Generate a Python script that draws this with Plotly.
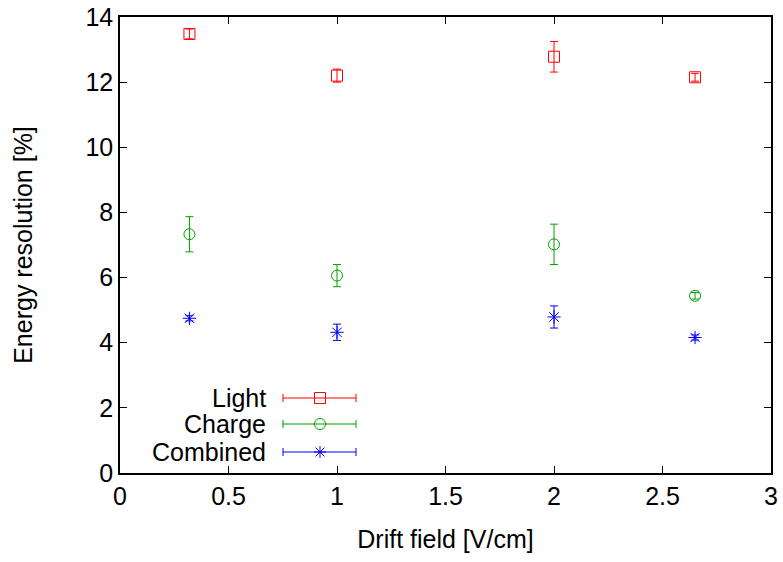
import plotly.graph_objects as go

# Data
drift_field = [0.32, 1.0, 2.0, 2.65]
light = [13.48, 12.2, 12.78, 12.15]
light_err = [0.15, 0.2, 0.47, 0.12]
charge = [7.33, 6.06, 7.02, 5.44]
charge_err = [0.54, 0.34, 0.62, 0.1]
combined = [4.75, 4.32, 4.79, 4.16]
combined_err = [0.08, 0.25, 0.34, 0.08]

series_names = ["Light", "Charge", "Combined"]
colors = ["#ff0000", "#00a000", "#0000ff"]
symbols = ["square-open", "circle-open", "asterisk-open"]
values = [light, charge, combined]
errors = [light_err, charge_err, combined_err]

x_ticks = [0, 0.5, 1, 1.5, 2, 2.5, 3]
y_ticks = [0, 2, 4, 6, 8, 10, 12, 14]

FONT = "Liberation Sans, Arial, sans-serif"
FS = 25

fig = go.Figure()
for name, col, sym, v, e in zip(series_names, colors, symbols, values, errors):
    fig.add_trace(go.Scatter(
        x=drift_field, y=v, mode="markers", name=name,
        marker=dict(symbol=sym, size=11, color=col, line=dict(width=1, color=col)),
        error_y=dict(type="data", array=e, visible=True, color=col, thickness=1, width=4),
        showlegend=False,
    ))

# Custom gnuplot-style legend (decoration, paper coordinates)
L, R, T, B = 120, 12, 17, 89
W, H = 783.0 - L - R, 562.0 - T - B
leg_rows_py = [398, 424, 452]
text_right_px = 268
line_x0_px, line_x1_px, marker_px = 283, 356, 320
shapes = []
annotations = []
for name, col, sym, py in zip(series_names, colors, symbols, leg_rows_py):
    yp = (562 - B - py) / H
    x0 = (line_x0_px - L) / W
    x1 = (line_x1_px - L) / W
    xm = (marker_px - L) / W
    annotations.append(dict(text=name, x=(text_right_px - L) / W, y=yp, xref="paper", yref="paper",
                            xanchor="right", yanchor="middle", showarrow=False,
                            font=dict(family=FONT, size=FS, color="black")))
    shapes.append(dict(type="line", xref="paper", yref="paper", x0=x0, x1=x1, y0=yp, y1=yp,
                       line=dict(color=col, width=1)))
    for xc in (x0, x1):
        shapes.append(dict(type="line", xref="paper", yref="paper", xsizemode="pixel", ysizemode="pixel",
                           xanchor=xc, yanchor=yp, x0=0, x1=0, y0=-4, y1=4, line=dict(color=col, width=1)))
    if sym == "square-open":
        shapes.append(dict(type="rect", xref="paper", yref="paper", xsizemode="pixel", ysizemode="pixel",
                           xanchor=xm, yanchor=yp, x0=-5.5, x1=5.5, y0=-5.5, y1=5.5,
                           line=dict(color=col, width=1)))
    elif sym == "circle-open":
        shapes.append(dict(type="circle", xref="paper", yref="paper", xsizemode="pixel", ysizemode="pixel",
                           xanchor=xm, yanchor=yp, x0=-5.5, x1=5.5, y0=-5.5, y1=5.5,
                           line=dict(color=col, width=1)))
    else:
        for (a, b, c, d) in [(-6, 0, 6, 0), (0, -6, 0, 6), (-4.5, -4.5, 4.5, 4.5), (-4.5, 4.5, 4.5, -4.5)]:
            shapes.append(dict(type="line", xref="paper", yref="paper", xsizemode="pixel", ysizemode="pixel",
                               xanchor=xm, yanchor=yp, x0=a, x1=c, y0=b, y1=d,
                               line=dict(color=col, width=1)))

axis_common = dict(showgrid=False, zeroline=False, showline=True, linecolor="black", linewidth=1.5,
                   mirror="ticks", ticks="inside", ticklen=7, tickcolor="black", tickwidth=1,
                   automargin=False,
                   tickfont=dict(family=FONT, size=FS, color="black"))

fig.update_layout(
    width=783, height=562,
    margin=dict(l=L, r=R, t=T, b=B),
    paper_bgcolor="white", plot_bgcolor="white",
    xaxis=dict(range=[0, 3], tickvals=x_ticks, ticktext=[str(t) for t in x_ticks],
               title=dict(text="Drift field [V/cm]", font=dict(family=FONT, size=FS, color="black"), standoff=22),
               **axis_common),
    yaxis=dict(range=[0, 14], tickvals=y_ticks, ticktext=[str(t) for t in y_ticks],
               title=dict(text="Energy resolution [%]", font=dict(family=FONT, size=FS, color="black"), standoff=46),
               **axis_common),
    shapes=shapes, annotations=annotations,
)

fig.write_html("out.html")
